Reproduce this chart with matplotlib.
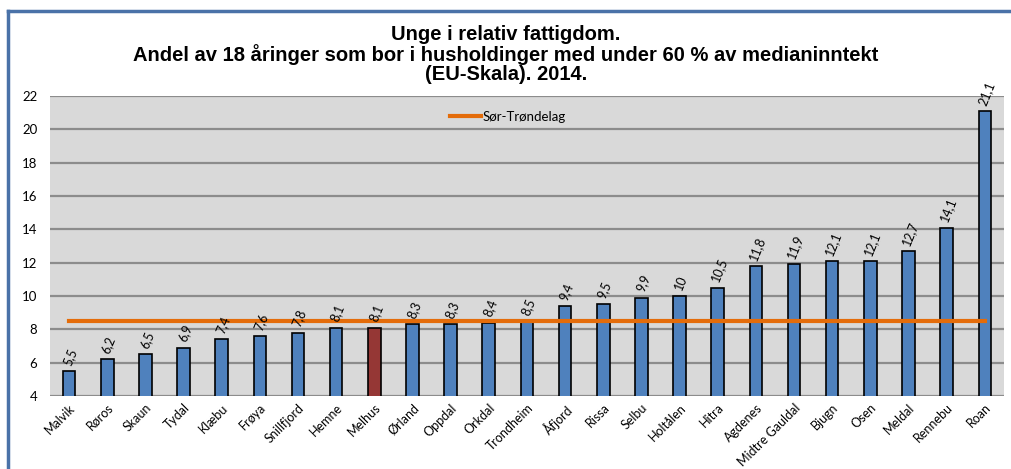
import numpy as np
import matplotlib.pyplot as plt
from matplotlib.lines import Line2D

# kommuner og andel (%)
kommuner = ["Malvik", "Røros", "Skaun", "Tydal", "Klæbu", "Frøya", "Snillfjord",
            "Hemne", "Melhus", "Ørland", "Oppdal", "Orkdal", "Trondheim", "Åfjord",
            "Rissa", "Selbu", "Holtålen", "Hitra", "Agdenes", "Midtre Gauldal",
            "Bjugn", "Osen", "Meldal", "Rennebu", "Roan"]
andel = [5.5, 6.2, 6.5, 6.9, 7.4, 7.6, 7.8, 8.1, 8.1, 8.3, 8.3, 8.4, 8.5, 9.4,
         9.5, 9.9, 10, 10.5, 11.8, 11.9, 12.1, 12.1, 12.7, 14.1, 21.1]
sor_trondelag = 8.5
uthevet = "Melhus"

fig = plt.figure(figsize=(10.12, 4.69), dpi=100)
ax = fig.add_axes([0.0494, 0.1557, 0.9426, 0.6396])
ax.set_facecolor("#d9d9d9")

x = np.arange(len(kommuner))
farger = ["#953735" if k == uthevet else "#4f81bd" for k in kommuner]
ax.bar(x, andel, width=0.33, color=farger, edgecolor="black", linewidth=1.2, zorder=3)

ax.plot([x[0], x[-1]], [sor_trondelag] * 2, color="#e46c0a", linewidth=3, zorder=4,
        label="Sør-Trøndelag")

for xi, v in zip(x, andel):
    txt = f"{v:g}".replace(".", ",")
    ax.annotate(txt, (xi, v), xytext=(1, 3), textcoords="offset points",
                ha="center", va="bottom", rotation=68, fontsize=9,
                family="Lato", zorder=5)

ax.set_ylim(4, 22)
ax.set_xlim(-0.5, len(kommuner) - 0.5)
ax.set_yticks(range(4, 23, 2))
ax.yaxis.grid(True, color="#8c8c8c", linewidth=1.6, zorder=1)
ax.set_axisbelow(True)
for s in ax.spines.values():
    s.set_visible(False)
ax.tick_params(axis="both", length=0, labelsize=9.5)
ax.tick_params(axis="y", pad=9)
ax.tick_params(axis="x", pad=4)
ax.set_xticks(x)
ax.set_xticklabels(kommuner, rotation=45, ha="right", rotation_mode="anchor",
                   family="Lato", fontsize=9)
for t in ax.get_yticklabels():
    t.set_family("Lato")

ax.legend(loc="upper center", bbox_to_anchor=(0.48, 0.99), frameon=False,
          prop={"family": "Lato", "size": 9.5}, handlelength=2.3, handletextpad=0.1)

fig.suptitle("Unge i relativ fattigdom.\n"
             "Andel av 18 åringer som bor i husholdinger med under 60 % av medianinntekt\n"
             "(EU-Skala). 2014.",
             y=0.883, va="center", fontsize=14.5, fontweight="bold",
             family="Liberation Sans", linespacing=1.0)

# ramme rundt diagrammet
fig.add_artist(Line2D([0.0075, 0.0075], [0, 0.977], color="#4a72a8", linewidth=2.5))
fig.add_artist(Line2D([0.0075, 1.0], [0.977, 0.977], color="#4a72a8", linewidth=2.5))

fig.savefig("out.png", dpi=100)
